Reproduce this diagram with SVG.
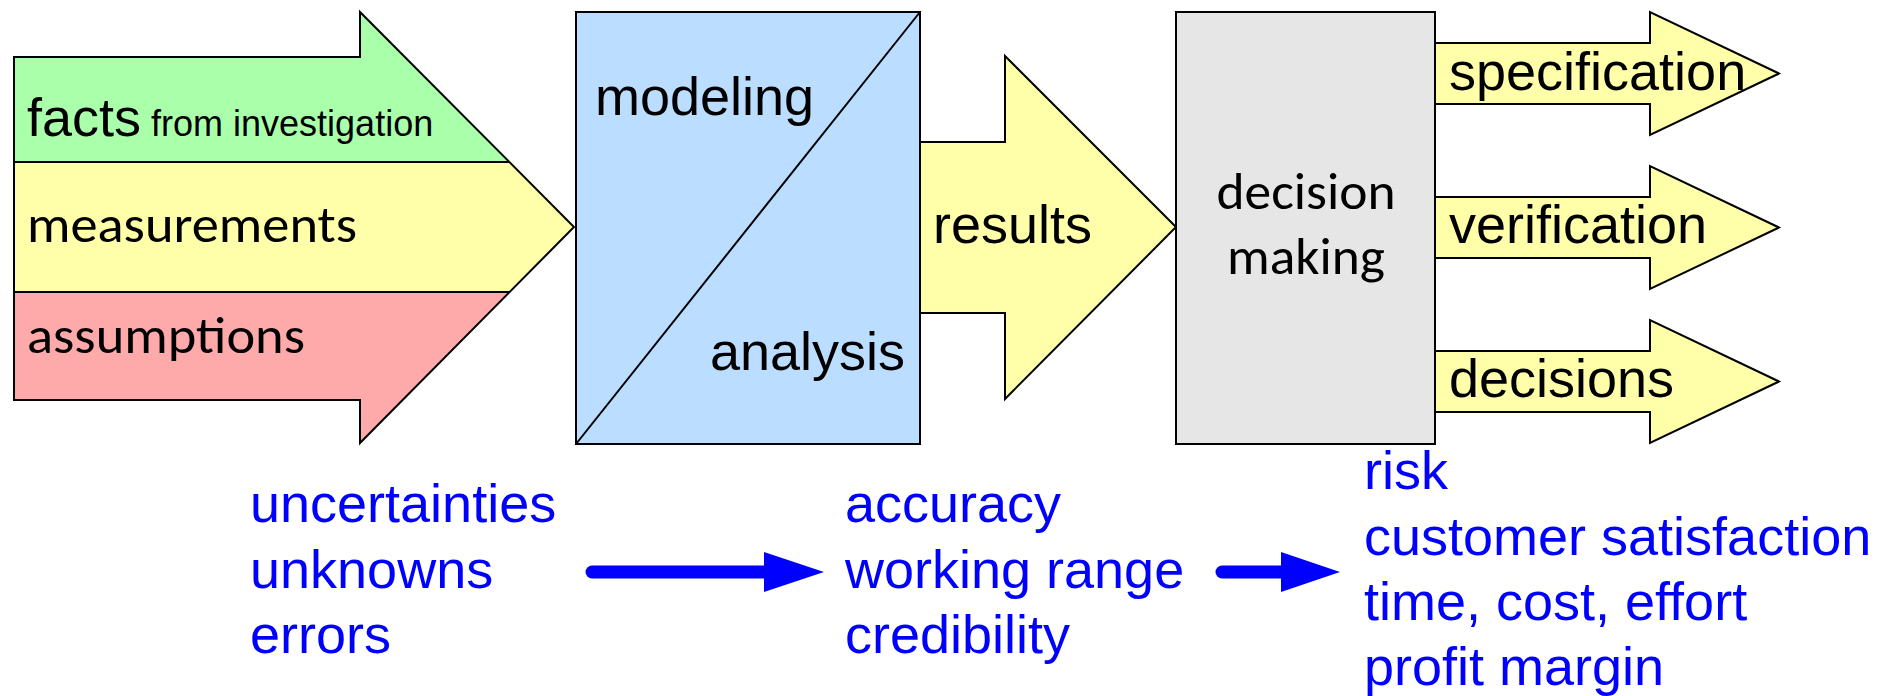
<svg xmlns="http://www.w3.org/2000/svg" width="1891" height="696" viewBox="0 0 1891 696">
<style>
.ol{stroke:#000;stroke-width:2;stroke-linejoin:miter}
.a{font-family:"Liberation Sans",Arial,sans-serif;font-size:54px;fill:#000}
.c{font-family:Carlito,Lato,"Open Sans",sans-serif;font-size:52px;fill:#000}
.b{font-family:"Liberation Sans",Arial,sans-serif;font-size:54px;fill:#0000ff}
.y{fill:#ffffaa}
</style>
<rect width="1891" height="696" fill="#fff"/>
<g id="inputs">
<polygon points="14,57 360,57 360,12 509,162 14,162" fill="#aaffaa"/>
<polygon points="14,162 509,162 574,227 510,292 14,292" fill="#ffffaa"/>
<polygon points="14,292 510,292 360,443 360,400 14,400" fill="#ffaaaa"/>
<line x1="14" y1="162" x2="509" y2="162" class="ol"/>
<line x1="14" y1="292" x2="510" y2="292" class="ol"/>
<polygon points="14,57 360,57 360,12 574,227 360,443 360,400 14,400" fill="none" class="ol"/>
<text class="a" x="27" y="136">facts<tspan font-size="36" dx="10">from investigation</tspan></text>
<text class="c" x="27" y="242" textLength="330" lengthAdjust="spacingAndGlyphs">measurements</text>
<text class="c" x="27" y="353" textLength="278" lengthAdjust="spacingAndGlyphs">assumptions</text>
</g>
<g id="modeling">
<rect x="576" y="12" width="344" height="432" fill="#bbddff" class="ol"/>
<line x1="576" y1="444" x2="920" y2="12" class="ol"/>
<text class="a" x="595" y="115">modeling</text>
<text class="a" x="905" y="370" text-anchor="end">analysis</text>
</g>
<g id="results">
<polygon points="920,142 1005,142 1005,56 1176,227 1005,399 1005,313 920,313" class="y ol"/>
<text class="a" x="933" y="243">results</text>
</g>
<g id="decision">
<rect x="1176" y="12" width="259" height="432" fill="#e6e6e6" class="ol"/>
<text class="c" x="1306" y="209" text-anchor="middle" textLength="179" lengthAdjust="spacingAndGlyphs">decision</text>
<text class="c" x="1306" y="274" text-anchor="middle" textLength="158" lengthAdjust="spacingAndGlyphs">making</text>
</g>
<g id="specification">
<polygon points="1435,43 1650,43 1650,12 1779,73.5 1650,135 1650,104 1435,104" class="y ol"/>
<text class="a" x="1449" y="90">specification</text>
</g>
<g id="verification">
<polygon points="1435,197 1650,197 1650,166 1779,227.5 1650,289 1650,258 1435,258" class="y ol"/>
<text class="a" x="1449" y="243">verification</text>
</g>
<g id="decisions">
<polygon points="1435,351 1650,351 1650,320 1779,381.5 1650,443 1650,412 1435,412" class="y ol"/>
<text class="a" x="1449" y="397">decisions</text>
</g>
<g id="connectors">
<line x1="592" y1="572" x2="768" y2="572" stroke="#0000ff" stroke-width="13" stroke-linecap="round"/>
<polygon points="764,552 824,572 764,592" fill="#0000ff"/>
<line x1="1222" y1="572" x2="1285" y2="572" stroke="#0000ff" stroke-width="13" stroke-linecap="round"/>
<polygon points="1281,552 1340,572 1281,592" fill="#0000ff"/>
</g>
<g id="uncertainty">
<text class="b" x="250" y="522">uncertainties</text>
<text class="b" x="250" y="588">unknowns</text>
<text class="b" x="250" y="653">errors</text>
</g>
<g id="quality">
<text class="b" x="845" y="522">accuracy</text>
<text class="b" x="845" y="588">working range</text>
<text class="b" x="845" y="653">credibility</text>
</g>
<g id="business">
<text class="b" x="1364" y="489">risk</text>
<text class="b" x="1364" y="555">customer satisfaction</text>
<text class="b" x="1364" y="620">time, cost, effort</text>
<text class="b" x="1364" y="685">profit margin</text>
</g>
</svg>
